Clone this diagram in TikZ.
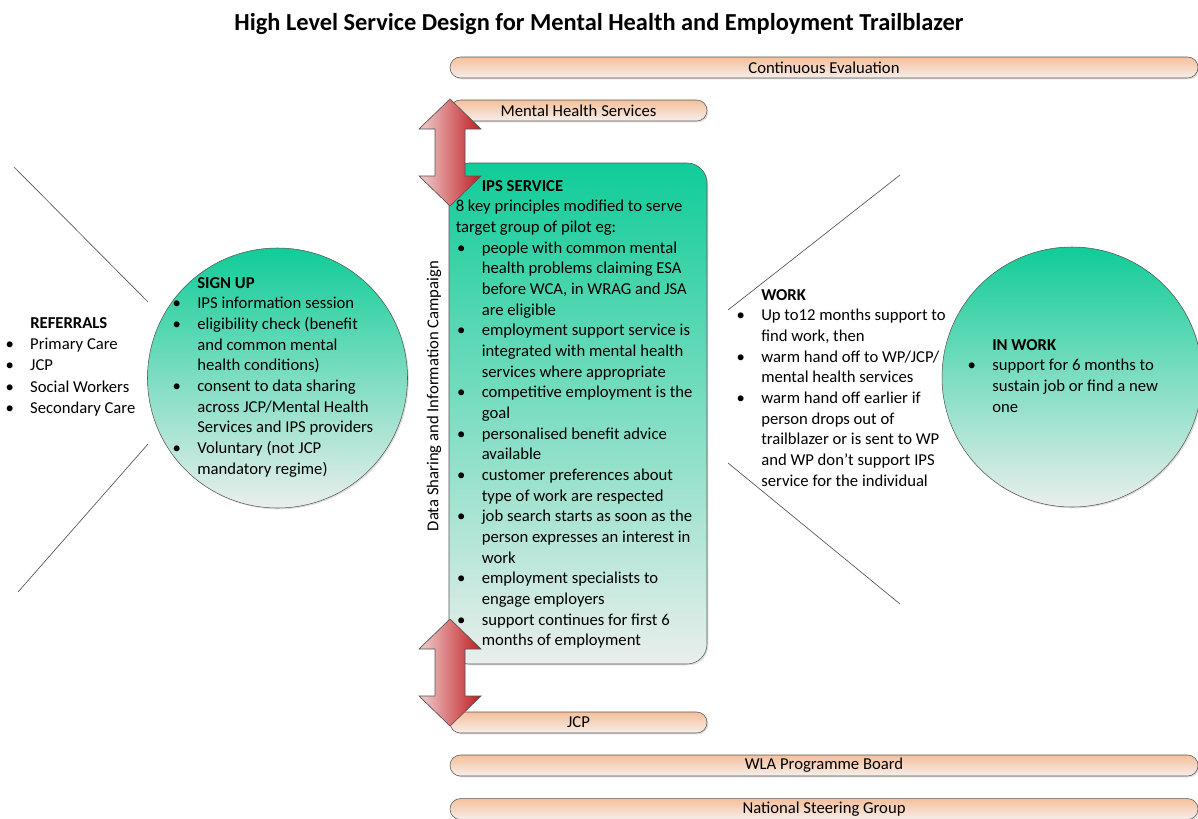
\documentclass[tikz,border=0pt]{standalone}
\usepackage{fontspec}
\setmainfont{Carlito}
\usetikzlibrary{positioning, shadows}

\definecolor{ipsgreen}{RGB}{16,204,152}
\definecolor{ipspale}{RGB}{234,238,236}
\definecolor{barpeach}{RGB}{245,192,155}
\definecolor{barpale}{RGB}{246,238,234}
\definecolor{arrowpink}{RGB}{240,208,208}
\definecolor{arrowred}{RGB}{192,28,32}
\definecolor{edgegray}{RGB}{85,85,85}

% bullet in front of a line, and the matching hanging indent
\newcommand{\bul}{\makebox[19.5pt][l]{\hspace{1pt}\textbullet}}
\newcommand{\ind}{\hspace*{19.5pt}}

\begin{document}
\begin{tikzpicture}[
    x=0.75pt, y=-0.75pt,
    font=\fontsize{12.5}{15.5}\selectfont,
    shade/.style={
        drop shadow={opacity=0.25, shadow xshift=1pt, shadow yshift=-1pt}
    },
    bar/.style={
        shade,
        draw=edgegray,
        rounded corners=7.8pt,
        top color=barpeach,
        bottom color=barpale,
        minimum height=15.75pt,
        inner sep=0pt
    },
    stage/.style={
        shade,
        circle,
        draw=edgegray,
        top color=ipsgreen,
        bottom color=ipspale,
        minimum size=195pt,
        inner sep=0pt
    },
    txt/.style={
        align=left,
        anchor=north west,
        inner sep=0pt
    },
    edge/.style={
        draw=edgegray,
        line width=0.5pt
    },
    updown/.pic={
        \path[draw=edgegray, line width=0.5pt, left color=arrowpink, right color=arrowred]
            (0,0) -- (31,30) -- (15,30) -- (15,77) -- (31,77) -- (0,107)
            -- (-31,77) -- (-15,77) -- (-15,30) -- (-31,30) -- cycle;
    }
]
\useasboundingbox (0,0) rectangle (1198,818);

\node[font=\fontsize{18.3}{22}\selectfont\bfseries] (title) at (599,24)
    {High Level Service Design for Mental Health and Employment Trailblazer};

% governance bars
\node[bar, minimum width=561pt] (evaluation) at (824,67.5) {Continuous Evaluation};
\node[bar, minimum width=192.75pt] (mhs) at (578.5,110.5) {Mental Health Services};
\node[bar, minimum width=192.75pt] (jcp) at (578.5,722.5) {JCP};
\node[bar, minimum width=561pt] (wla) at (824,765.5) {WLA Programme Board};
\node[bar, minimum width=561pt, below=16.5pt of wla] (steering) {National Steering Group};

% IPS service box
\node[shade, draw=edgegray, rounded corners=15pt, top color=ipsgreen, bottom color=ipspale,
    minimum width=193.5pt, minimum height=375.75pt] (ips) at (578,413.5) {};

\node[txt] (ipstext) at (455.5,176.5) {%
    \strut\ind\textbf{IPS SERVICE}\\
    8 key principles modified to serve\\
    target group of pilot eg:\\
    \bul people with common mental\\
    \ind health problems claiming ESA\\
    \ind before WCA, in WRAG and JSA\\
    \ind are eligible\\
    \bul employment support service is\\
    \ind integrated with mental health\\
    \ind services where appropriate\\
    \bul competitive employment is the\\
    \ind goal\\
    \bul personalised benefit advice\\
    \ind available\\
    \bul customer preferences about\\
    \ind type of work are respected\\
    \bul job search starts as soon as the\\
    \ind person expresses an interest in\\
    \ind work\\
    \bul employment specialists to\\
    \ind engage employers\\
    \bul support continues for first 6\\
    \ind months of employment};

\node[rotate=90] (campaign) at (434,396) {Data Sharing and Information Campaign};

% stages either side
\node[stage] (signup) at (277.5,378) {};
\node[stage] (inwork) at (1072,377) {};

\node[txt] (signuptext) at (171,273.5) {%
    \strut\ind\textbf{SIGN UP}\\
    \bul IPS information session\\
    \bul eligibility check (benefit\\
    \ind and common mental\\
    \ind health conditions)\\
    \bul consent to data sharing\\
    \ind across JCP/Mental Health\\
    \ind Services and IPS providers\\
    \bul Voluntary (not JCP\\
    \ind mandatory regime)};

\node[txt, font=\fontsize{12.5}{16}\selectfont] (referrals) at (4,313) {%
    \strut\ind\textbf{REFERRALS}\\
    \bul Primary Care\\
    \bul JCP\\
    \bul Social Workers\\
    \bul Secondary Care};

\node[txt] (work) at (735,285.5) {%
    \strut\ind\textbf{WORK}\\
    \bul Up to12 months support to\\
    \ind find work, then\\
    \bul warm hand off to WP/JCP/\\
    \ind mental health services\\
    \bul warm hand off earlier if\\
    \ind person drops out of\\
    \ind trailblazer or is sent to WP\\
    \ind and WP don't support IPS\\
    \ind service for the individual};

\node[txt] (inworktext) at (966,335.5) {%
    \strut\ind\textbf{IN WORK}\\
    \bul support for 6 months to\\
    \ind sustain job or find a new\\
    \ind one};

% funnel lines
\coordinate (lt) at (14,167);
\coordinate (lb) at (18,592);
\coordinate (rt) at (900,175);
\coordinate (rb) at (900,604);
\draw[edge] (lt) -- (148,302);
\draw[edge] (lb) -- (148,444);
\draw[edge] (728,310) -- (rt);
\draw[edge] (728,463) -- (rb);

% links to the services
\pic at (450,99) {updown};
\pic at (450,619) {updown};

\end{tikzpicture}
\end{document}
